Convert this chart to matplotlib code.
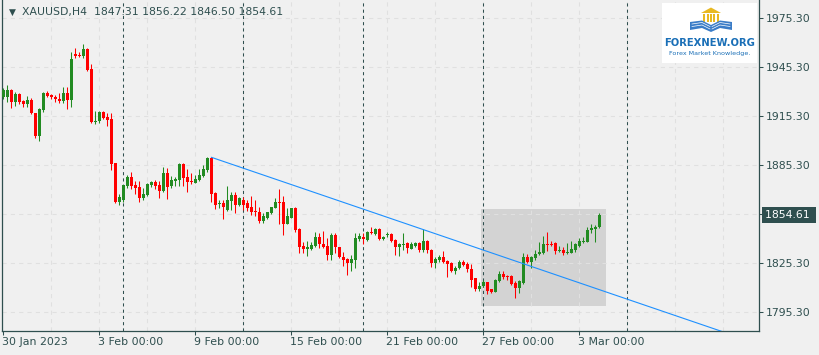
#Recreation of an MT4 style XAUUSD H4 candlestick chart
import numpy as np
import matplotlib
matplotlib.use('Agg')
import matplotlib.pyplot as plt
from matplotlib.patches import Rectangle, Polygon
from matplotlib.transforms import blended_transform_factory, ScaledTranslation

#candle data, oldest first
opens = [1926.9, 1927.1, 1931.2, 1924.1, 1928.8, 1924.5, 1922.6, 1925.1, 1916.9, 1903.2,
         1919.0, 1929.4, 1928.2, 1927.1, 1925.5, 1924.5, 1929.6, 1925.1, 1953.3, 1952.6,
         1952.0, 1956.3, 1944.1, 1911.8, 1912.2, 1917.9, 1914.9, 1913.7, 1886.5, 1862.7,
         1864.1, 1872.6, 1878.1, 1873.1, 1872.0, 1865.3, 1867.0, 1873.1, 1874.7, 1873.1,
         1869.6, 1880.4, 1872.6, 1875.7, 1876.3, 1885.9, 1877.9, 1875.7, 1874.5, 1876.1,
         1878.8, 1882.3, 1889.8, 1868.0, 1861.4, 1862.2, 1857.8, 1863.5, 1867.0, 1860.8,
         1863.9, 1861.9, 1859.8, 1857.1, 1856.7, 1851.0, 1853.0, 1855.7, 1859.2, 1862.5,
         1862.5, 1849.2, 1853.0, 1859.2, 1846.1, 1835.7, 1834.1, 1834.1, 1835.9, 1841.4,
         1837.0, 1835.7, 1830.2, 1842.4, 1835.3, 1829.2, 1827.6, 1825.5, 1827.2, 1839.8,
         1841.4, 1839.4, 1844.5, 1843.1, 1846.1, 1840.0, 1842.3, 1842.9, 1839.4, 1835.3,
         1836.5, 1837.4, 1833.9, 1835.9, 1837.4, 1833.3, 1839.0, 1833.3, 1825.1, 1827.2,
         1828.8, 1826.5, 1825.5, 1820.4, 1822.4, 1826.1, 1824.7, 1821.6, 1816.0, 1809.2,
         1811.2, 1813.9, 1809.2, 1807.7, 1814.5, 1818.6, 1817.3, 1817.3, 1812.9, 1810.2,
         1812.9, 1829.2, 1826.1, 1828.2, 1830.6, 1831.6, 1837.1, 1837.1, 1837.7, 1832.7,
         1833.3, 1831.6, 1831.6, 1833.3, 1835.9, 1838.4, 1838.4, 1845.5, 1845.9, 1847.31]
highs = [1932.4, 1934.3, 1931.8, 1930.2, 1929.6, 1925.1, 1927.5, 1926.1, 1917.3, 1920.2,
         1930.2, 1930.6, 1929.0, 1928.2, 1929.2, 1933.1, 1933.1, 1954.3, 1956.7, 1954.5,
         1959.4, 1956.9, 1947.1, 1918.5, 1918.5, 1918.5, 1917.3, 1917.3, 1886.5, 1867.4,
         1873.1, 1879.2, 1881.0, 1875.5, 1875.5, 1871.4, 1874.1, 1875.5, 1876.1, 1875.5,
         1884.1, 1883.3, 1878.6, 1878.1, 1886.7, 1886.3, 1882.9, 1880.2, 1879.2, 1882.7,
         1885.3, 1890.0, 1890.0, 1869.0, 1863.9, 1863.9, 1872.4, 1868.6, 1868.6, 1865.9,
         1865.9, 1863.9, 1866.5, 1863.9, 1859.8, 1855.7, 1856.7, 1859.8, 1865.3, 1870.6,
         1866.3, 1858.8, 1859.2, 1859.8, 1846.5, 1838.4, 1839.0, 1838.4, 1844.1, 1843.5,
         1844.9, 1840.4, 1843.5, 1843.5, 1835.3, 1832.2, 1828.2, 1830.2, 1843.5, 1843.5,
         1843.5, 1844.9, 1847.5, 1846.5, 1846.5, 1842.0, 1844.1, 1843.5, 1840.0, 1837.3,
         1843.9, 1838.0, 1838.4, 1838.4, 1838.4, 1846.1, 1839.2, 1833.6, 1829.2, 1830.2,
         1832.7, 1827.2, 1826.1, 1823.7, 1827.2, 1827.2, 1826.1, 1824.7, 1816.3, 1813.9,
         1814.9, 1814.0, 1809.4, 1815.3, 1820.6, 1820.6, 1818.0, 1818.0, 1814.3, 1814.7,
         1831.6, 1830.6, 1829.8, 1833.3, 1838.4, 1842.0, 1844.5, 1839.0, 1838.4, 1835.9,
         1834.9, 1837.4, 1838.8, 1837.4, 1840.8, 1841.4, 1847.5, 1849.0, 1848.4, 1856.22]
lows = [1925.7, 1924.1, 1920.4, 1921.6, 1922.6, 1921.0, 1921.0, 1916.5, 1902.0, 1900.2,
        1917.9, 1926.8, 1925.5, 1923.9, 1923.1, 1923.4, 1919.6, 1921.0, 1950.6, 1951.2,
        1951.0, 1942.8, 1911.2, 1910.6, 1911.2, 1913.5, 1909.2, 1882.2, 1861.9, 1861.0,
        1862.5, 1871.4, 1870.6, 1867.7, 1862.8, 1863.9, 1866.5, 1872.0, 1870.6, 1865.3,
        1868.6, 1864.5, 1871.0, 1872.6, 1872.6, 1872.6, 1868.6, 1873.5, 1874.1, 1875.7,
        1877.8, 1881.2, 1862.5, 1858.4, 1858.8, 1852.3, 1857.3, 1857.8, 1855.7, 1860.4,
        1857.8, 1857.3, 1854.7, 1854.3, 1850.0, 1849.6, 1852.2, 1855.3, 1858.8, 1849.2,
        1842.4, 1848.9, 1852.7, 1844.1, 1831.4, 1831.6, 1829.6, 1833.3, 1834.9, 1834.3,
        1834.3, 1827.2, 1827.2, 1831.2, 1828.2, 1823.7, 1818.0, 1820.6, 1822.1, 1839.0,
        1836.8, 1838.8, 1842.9, 1842.5, 1839.7, 1839.7, 1841.4, 1838.4, 1830.2, 1829.8,
        1833.3, 1831.2, 1833.6, 1835.3, 1831.9, 1832.2, 1831.2, 1823.0, 1822.1, 1826.1,
        1825.1, 1816.9, 1820.0, 1818.6, 1821.6, 1823.5, 1820.0, 1810.8, 1808.2, 1808.4,
        1810.4, 1806.3, 1807.1, 1807.6, 1813.9, 1815.5, 1814.9, 1811.8, 1804.1, 1806.8,
        1812.4, 1825.1, 1822.4, 1827.2, 1830.2, 1830.6, 1832.8, 1835.7, 1830.8, 1831.9,
        1830.2, 1830.8, 1831.4, 1832.2, 1835.3, 1837.4, 1838.0, 1843.9, 1838.4, 1846.50]
closes = [1931.2, 1931.2, 1924.1, 1928.8, 1924.1, 1922.6, 1925.1, 1916.9, 1903.2, 1919.6,
          1929.4, 1927.7, 1926.8, 1925.5, 1924.5, 1929.6, 1925.1, 1950.2, 1952.0, 1952.0,
          1956.3, 1943.5, 1911.8, 1912.2, 1917.9, 1914.2, 1912.9, 1885.9, 1862.7, 1865.7,
          1873.1, 1878.1, 1872.6, 1871.4, 1865.3, 1867.6, 1873.5, 1874.7, 1872.6, 1869.6,
          1880.4, 1871.7, 1876.1, 1876.9, 1885.9, 1877.5, 1875.1, 1875.1, 1876.7, 1879.2,
          1882.9, 1889.4, 1867.6, 1860.8, 1862.0, 1859.8, 1863.7, 1867.0, 1860.8, 1865.3,
          1860.8, 1858.8, 1856.7, 1856.7, 1851.0, 1854.1, 1856.7, 1859.8, 1862.8, 1862.0,
          1849.2, 1854.1, 1859.2, 1845.5, 1835.3, 1834.1, 1835.3, 1836.3, 1841.4, 1836.8,
          1835.3, 1830.2, 1842.4, 1835.3, 1828.8, 1827.2, 1825.5, 1827.6, 1840.8, 1841.8,
          1840.0, 1844.5, 1843.5, 1846.1, 1840.0, 1841.4, 1842.9, 1839.0, 1835.3, 1837.0,
          1837.0, 1834.7, 1836.8, 1837.4, 1833.3, 1839.0, 1833.3, 1825.1, 1827.8, 1829.2,
          1826.0, 1824.5, 1820.4, 1822.4, 1826.1, 1824.1, 1821.4, 1814.9, 1809.2, 1811.2,
          1813.9, 1808.4, 1807.7, 1814.9, 1818.6, 1816.6, 1816.6, 1812.4, 1809.8, 1814.3,
          1829.2, 1826.1, 1829.2, 1830.8, 1832.2, 1836.9, 1836.3, 1836.3, 1832.8, 1833.3,
          1831.6, 1832.2, 1833.9, 1836.8, 1839.0, 1839.0, 1845.5, 1846.5, 1847.5, 1854.61]

#axis labels
symbol = 'XAUUSD,H4'
x_tick_bars = [0, 24, 48, 72, 96, 120, 144]
x_tick_labels = ['30 Jan 2023', '3 Feb 00:00', '9 Feb 00:00', '15 Feb 00:00',
                 '21 Feb 00:00', '27 Feb 00:00', '3 Mar 00:00']
y_ticks = [1795.30, 1825.30, 1855.30, 1885.30, 1915.30, 1945.30, 1975.30]
week_breaks = [30, 60, 90, 120, 156]

#drawn objects: trend line through two points and a shaded box
trend_bars = [52, 120]
trend_prices = [1890.0, 1833.2]
box_bars = [119.45, 150.7]
box_prices = [1798.9, 1858.3]

bg = '#f0f0f0'
fg = '#2f4f4f'
bull = '#228b22'
bear = '#ff0000'

fig = plt.figure(figsize=(8.2, 3.55), dpi=100, facecolor=bg)
ax = fig.add_axes([2.5/820, 24/355, 757/820, 331/355], facecolor=bg)
ax.set_xlim(-0.25, 189.0)
ax.set_ylim(1783.7, 1986.32)

#grid and week separators
for b in range(12, 190, 12):
    ax.axvline(b, color='#e0e0e0', lw=0.75, ls=(0, (4, 4)), zorder=1)
for p in y_ticks:
    ax.axhline(p, color='#e0e0e0', lw=0.75, ls=(0, (4, 4)), zorder=1)
for b in week_breaks:
    ax.axvline(b, color=fg, lw=0.75, ls=(0, (3, 3)), zorder=1.5)

#shaded rectangle
ax.add_patch(Rectangle((box_bars[0], box_prices[0]), box_bars[1]-box_bars[0],
                       box_prices[1]-box_prices[0], fc='#d3d3d3', ec='none', zorder=0.5))

#candles
o = np.array(opens)
h = np.array(highs)
l = np.array(lows)
c = np.array(closes)
x = np.arange(len(o))
cols = np.where(c >= o, bull, bear)
ax.vlines(x, l, h, colors=cols, lw=0.75, zorder=3)
ax.bar(x, np.maximum(np.abs(c-o), 0.6), 0.75, bottom=np.minimum(o, c), color=cols, lw=0, zorder=3)

#trend line, extended to the right edge
slope = (trend_prices[1]-trend_prices[0])/(trend_bars[1]-trend_bars[0])
x_end = 189
ax.plot([trend_bars[0], x_end], [trend_prices[0], trend_prices[0]+slope*(x_end-trend_bars[0])],
        color='#1e90ff', lw=0.8, zorder=4)

#axes styling
ax.spines['top'].set_visible(False)
for s in ['left', 'right', 'bottom']:
    ax.spines[s].set_color(fg)
    ax.spines[s].set_linewidth(0.9)
ax.yaxis.tick_right()
ax.set_yticks(y_ticks)
#the level under the current price box is not labelled
ax.set_yticklabels(['' if abs(v-closes[-1]) < 5 else '%.2f' % v for v in y_ticks])
ax.set_xticks(x_tick_bars)
ax.set_xticklabels(x_tick_labels)
ax.tick_params(axis='y', length=3, width=0.75, color=fg, labelcolor=fg, labelsize=7.8, pad=1.8)
ax.tick_params(axis='x', length=3, width=0.75, color=fg, labelcolor=fg, labelsize=7.9, pad=1.5)
for lab in ax.get_xticklabels():
    lab.set_ha('left')
    lab.set_transform(lab.get_transform() + ScaledTranslation(-1.5/100, 0, fig.dpi_scale_trans))

#current price label on the price scale
tr = blended_transform_factory(ax.transAxes, ax.transData) + ScaledTranslation(5.5/100, 0, fig.dpi_scale_trans)
ax.text(1.0, closes[-1], '%.2f ' % closes[-1], transform=tr, ha='left', va='center', color='white',
        fontsize=7.8, clip_on=False, zorder=6,
        bbox=dict(boxstyle='square,pad=0.3', fc=fg, ec='none'))

#title line
ax.text(6/757, 1-12/331, '\u25bc', transform=ax.transAxes, fontsize=6.5, color=fg, va='center')
ax.text(20/757, 1-12/331, '%s  %.2f %.2f %.2f %.2f' % (symbol, opens[-1], highs[-1], lows[-1], closes[-1]),
        transform=ax.transAxes, fontsize=7.8, color=fg, va='center')

#logo box
lg = fig.add_axes([662/820, 1-63/355, 95/820, 60/355])
lg.set_xlim(0, 95)
lg.set_ylim(60, 0)
lg.axis('off')
lg.add_patch(Rectangle((0, 0), 95, 60, fc='white', ec='none'))
lg.add_patch(Polygon([(39, 10), (49, 4.5), (59, 10)], fc='#e8b923', ec='none'))
for px in [42, 45.5, 49, 52.5, 56]:
    lg.add_patch(Rectangle((px-1, 10.5), 2, 8, fc='#e8b923', ec='none'))
lg.add_patch(Polygon([(28, 19), (40, 17.5), (49, 22), (49, 29), (40, 25), (28, 27)], fc='#3a7cc7', ec='none'))
lg.add_patch(Polygon([(70, 19), (58, 17.5), (49, 22), (49, 29), (58, 25), (70, 27)], fc='#3a7cc7', ec='none'))
for yy in [21, 23.5]:
    lg.plot([30, 40, 48], [yy, yy-1.5, yy+2.5], color='white', lw=0.5)
    lg.plot([68, 58, 50], [yy, yy-1.5, yy+2.5], color='white', lw=0.5)
lg.text(47.5, 40.5, 'FOREXNEW.ORG', ha='center', va='center', fontsize=7.2, fontweight='bold', color='#1a6fb7')
lg.text(47.5, 50.5, 'Forex Market Knowledge.', ha='center', va='center', fontsize=4.6, color='#1a6fb7')

fig.savefig('out.png', dpi=100, facecolor=bg)
